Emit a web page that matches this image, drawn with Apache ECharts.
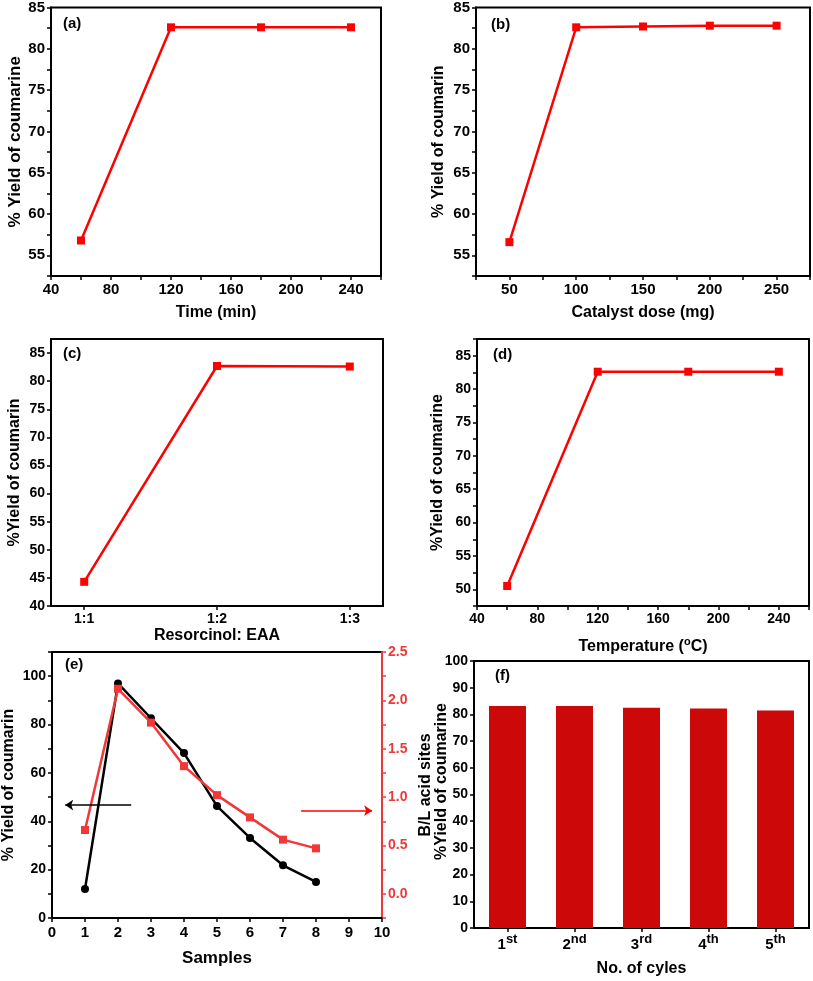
<!DOCTYPE html>
<html>
<head>
<meta charset="utf-8">
<script src="https://cdn.jsdelivr.net/npm/echarts@6/dist/echarts.min.js"></script>
<style>
html,body{margin:0;padding:0;background:#fff;}
#chart{width:813px;height:981px;}
</style>
</head>
<body>
<div id="chart"></div>
<script>
// ---- data ----
const aTime = [60, 120, 180, 240];
const aYield = [56.8, 82.6, 82.6, 82.6];
const bDose = [50, 100, 150, 200, 250];
const bYield = [56.6, 82.6, 82.7, 82.8, 82.8];
const cRatios = ['1:1', '1:2', '1:3'];
const cYield = [44.3, 82.7, 82.6];
const dTemp = [60, 120, 180, 240];
const dYield = [50.5, 82.6, 82.6, 82.6];
const eSamples = [1, 2, 3, 4, 5, 6, 7, 8];
const eYield = [12.0, 97.0, 82.6, 68.2, 46.3, 33.1, 21.8, 14.9];
const eBL = [0.66, 2.12, 1.77, 1.32, 1.02, 0.79, 0.56, 0.47];
const eArrowLeftX = [2.4, 0.4];
const eArrowLeftY = 46.7;
const eArrowRightX = [7.55, 9.7];
const eArrowRightY = 0.86;
const fCycles = ['1st', '2nd', '3rd', '4th', '5th'];
const fYield = [83.1, 83.1, 82.5, 82.2, 81.5];
// tick labels
const cXTicks = [1, 2, 3];
const cYTicks = [40, 45, 50, 55, 60, 65, 70, 75, 80, 85];

const FONT = "'Liberation Sans', Arial, Helvetica, sans-serif";
const RED = '#ff0000';
const RED_E = '#f03838';
const BAR = '#cc0808';

function mkAxis(o) {
  const color = o.color || '#000';
  const ax = {
    type: o.type || 'value',
    gridIndex: o.grid,
    position: o.position,
    name: o.name,
    nameLocation: 'middle',
    nameGap: o.nameGap,
    nameMoveOverlap: false,
    nameTextStyle: {fontFamily: FONT, fontWeight: 'bold', fontSize: o.nameSize || 16, color: o.nameColor || '#000'},
    axisLine: {show: true, onZero: false, lineStyle: {color: color, width: 2}},
    axisTick: {show: true, length: 4, alignWithLabel: true, lineStyle: {color: color, width: 1.5}},
    axisLabel: {fontFamily: FONT, fontWeight: 'bold', fontSize: o.labelSize || 14, color: color, margin: o.margin || 6, hideOverlap: false},
    splitLine: {show: false}
  };
  if (o.min !== undefined) ax.min = o.min;
  if (o.max !== undefined) ax.max = o.max;
  if (o.interval !== undefined) ax.interval = o.interval;
  if (o.fmt) ax.axisLabel.formatter = o.fmt;
  if (o.data) { ax.data = o.data; ax.axisLabel.interval = 0; ax.axisTick.interval = 0; }
  if (o.tickValues) ax.axisTick.customValues = o.tickValues;
  if (o.labelValues) ax.axisLabel.customValues = o.labelValues;
  if (o.rich) ax.axisLabel.rich = o.rich;
  if (o.labelLineHeight) ax.axisLabel.lineHeight = o.labelLineHeight;
  if (o.namePadding) ax.nameTextStyle.padding = o.namePadding;
  if (o.nameRich) { ax.nameTextStyle.rich = o.nameRich; ax.nameTextStyle.lineHeight = 22; }
  return ax;
}
const every = (step, lo, hi) => v => (Math.abs(v / step - Math.round(v / step)) < 1e-9 && v >= lo - 1e-9 && v <= hi + 1e-9) ? String(v) : '';

const grids = [
  {left: 51, top: 7, width: 330, height: 269},
  {left: 476, top: 7, width: 334, height: 269},
  {left: 51, top: 339, width: 332, height: 267},
  {left: 477, top: 339, width: 332, height: 267},
  {left: 51, top: 652, width: 331, height: 266},
  {left: 474, top: 661, width: 335, height: 267}
].map(g => Object.assign({show: true, borderColor: '#000', borderWidth: 2, backgroundColor: 'transparent', containLabel: false}, g));

const xAxes = [
  mkAxis({grid: 0, min: 40, max: 260, interval: 20, fmt: every(40, 40, 240), name: 'Time (min)', nameGap: 29, labelSize: 15}),
  mkAxis({grid: 1, min: 25, max: 275, interval: 25, fmt: every(50, 50, 250), name: 'Catalyst dose (mg)', nameGap: 29, labelSize: 15}),
  mkAxis({grid: 2, min: 0.75, max: 3.25, tickValues: cXTicks, labelValues: cXTicks,
          fmt: v => (Math.abs(v - Math.round(v)) < 1e-9 && cRatios[Math.round(v) - 1]) ? cRatios[Math.round(v) - 1] : '',
          name: 'Resorcinol: EAA', nameGap: 22}),
  mkAxis({grid: 3, min: 40, max: 260, interval: 20, fmt: every(40, 40, 240), name: 'Temperature ({sup|o}C)', nameGap: 30,
          nameSize: 16, nameRich: {sup: {fontFamily: FONT, fontWeight: 'bold', fontSize: 11, verticalAlign: 'top', lineHeight: 13}}}),
  mkAxis({grid: 4, min: 0, max: 10, interval: 1, name: 'Samples', nameGap: 32, nameSize: 17, labelSize: 15, margin: 7}),
  mkAxis({grid: 5, type: 'category', data: fCycles, name: 'No. of cyles', nameGap: 33, labelSize: 15, margin: 5,
          fmt: v => { const m = String(v).match(/^(\d+)(\D+)$/); return m ? m[1] + '{sup|' + m[2] + '}' : v; },
          labelLineHeight: 24,
          rich: {sup: {fontFamily: FONT, fontWeight: 'bold', fontSize: 13, color: '#000', verticalAlign: 'top', lineHeight: 14}}})
];
xAxes[5].boundaryGap = true;

const yAxes = [
  mkAxis({grid: 0, min: 52.5, max: 85, interval: 2.5, fmt: every(5, 55, 85), name: '% Yield of coumarine', nameGap: 27, nameSize: 17, labelSize: 15}),
  mkAxis({grid: 1, min: 52.5, max: 85, interval: 2.5, fmt: every(5, 55, 85), name: '% Yield of coumarin', nameGap: 29, labelSize: 15}),
  mkAxis({grid: 2, min: 40, max: 87.5, interval: 5, tickValues: cYTicks, labelValues: cYTicks, fmt: every(5, 40, 85), name: '%Yield of coumarin', nameGap: 28}),
  mkAxis({grid: 3, min: 47.5, max: 87.5, interval: 2.5, fmt: every(5, 50, 85), name: '%Yield of coumarine', nameGap: 31}),
  mkAxis({grid: 4, min: 0, max: 110, interval: 10, fmt: every(20, 0, 100), name: '% Yield of coumarin', nameGap: 35}),
  mkAxis({grid: 4, position: 'right', min: -0.25, max: 2.5, interval: 0.25, color: RED_E,
          fmt: v => (Math.abs(v * 2 - Math.round(v * 2)) < 1e-9 && v >= -1e-9) ? v.toFixed(1) : '',
          name: 'B/L acid sites', nameGap: 36, nameColor: '#000'}),
  mkAxis({grid: 5, min: 0, max: 100, interval: 10, name: '%Yield of coumarine', nameGap: 24, namePadding: [0, 0, 0, 26]})
];

function lineSeries(xi, yi, xs, ys, color) {
  return {
    type: 'line', xAxisIndex: xi, yAxisIndex: yi,
    data: xs.map((x, i) => [x, ys[i]]),
    symbol: 'rect', symbolSize: 8,
    lineStyle: {color: color, width: 2.5},
    itemStyle: {color: color},
    z: 3
  };
}

const series = [
  lineSeries(0, 0, aTime, aYield, RED),
  lineSeries(1, 1, bDose, bYield, RED),
  lineSeries(2, 2, cRatios.map((r, i) => i + 1), cYield, RED),
  lineSeries(3, 3, dTemp, dYield, RED),
  Object.assign(lineSeries(4, 4, eSamples, eYield, '#000'), {
    symbol: 'circle', symbolSize: 8,
    markLine: {
      silent: true, symbol: ['none', 'arrow'], symbolSize: 8,
      lineStyle: {color: '#000', width: 1.5, type: 'solid'},
      label: {show: false},
      data: [[{coord: [eArrowLeftX[0], eArrowLeftY]}, {coord: [eArrowLeftX[1], eArrowLeftY]}]]
    }
  }),
  Object.assign(lineSeries(4, 5, eSamples, eBL, RED_E), {
    z: 4,
    markLine: {
      silent: true, symbol: ['none', 'arrow'], symbolSize: 8,
      lineStyle: {color: RED, width: 1.5, type: 'solid'},
      label: {show: false},
      data: [[{coord: [eArrowRightX[0], eArrowRightY]}, {coord: [eArrowRightX[1], eArrowRightY]}]]
    }
  }),
  {
    type: 'bar', xAxisIndex: 5, yAxisIndex: 6,
    data: fYield, barWidth: 37,
    itemStyle: {color: BAR}
  }
];

const panelLabels = [
  ['(a)', 63, 16], ['(b)', 491, 17], ['(c)', 63, 346],
  ['(d)', 493, 347], ['(e)', 65, 657], ['(f)', 495, 668]
];
const titles = panelLabels.map(p => ({
  text: p[0], left: p[1], top: p[2], padding: 0,
  textStyle: {fontFamily: FONT, fontWeight: 'bold', fontSize: 15, color: '#000'}
}));

const chart = echarts.init(document.getElementById('chart'), null, {renderer: 'canvas'});
chart.setOption({
  animation: false,
  backgroundColor: '#fff',
  title: titles,
  grid: grids,
  xAxis: xAxes,
  yAxis: yAxes,
  series: series
});
</script>
</body>
</html>
